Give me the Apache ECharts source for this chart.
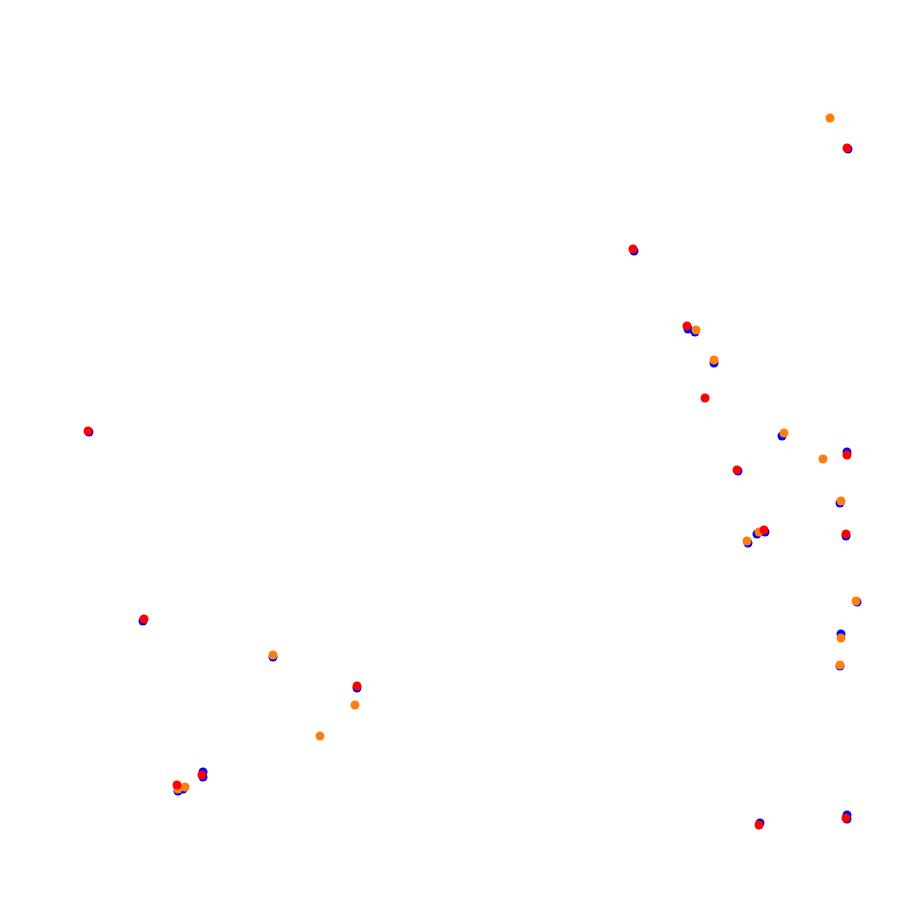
<!DOCTYPE html>
<html>
<head>
<meta charset="utf-8">
<script src="https://cdn.jsdelivr.net/npm/echarts@6/dist/echarts.min.js"></script>
<style>html,body{margin:0;padding:0;background:#fff}#c{width:898px;height:912px}</style>
</head>
<body>
<div id="c"></div>
<script>
const blueSeries = [[848,149],[634,251],[688,329],[695,332],[714,363],[782,436],[847,452],[738,471],[840,503],[765,532],[757,534],[748,543],[846,536],[857,602],[841,634],[840,666],[89,432],[143,621],[273,657],[357,688],[203,772],[203,777],[178,791],[183,789],[760,823],[847,815],[847,819]];
const orangeSeries = [[830,118],[696,330],[714,360],[784,433],[823,459],[841,501],[759,532],[747,541],[856,601],[841,638],[840,665],[273,655],[355,705],[320,736],[185,787],[178,789]];
const redSeries = [[847,148],[633,249],[687,326],[705,398],[847,455],[737,470],[764,530],[846,534],[88,431],[144,619],[357,686],[202,775],[177,785],[759,825],[846,818]];

const chart = echarts.init(document.getElementById('c'));
chart.setOption({
  animation: false,
  backgroundColor: '#ffffff',
  grid: {left: 0, right: 0, top: 0, bottom: 0},
  xAxis: {type: 'value', min: 0, max: 898, show: false},
  yAxis: {type: 'value', min: 0, max: 912, inverse: true, show: false},
  series: [
    {type: 'scatter', data: blueSeries, symbolSize: 9, itemStyle: {color: '#0000ff', opacity: 1}},
    {type: 'scatter', data: orangeSeries, symbolSize: 9, itemStyle: {color: '#ff7f0e', opacity: 1}},
    {type: 'scatter', data: redSeries, symbolSize: 9, itemStyle: {color: '#ff0000', opacity: 1}}
  ]
});
</script>
</body>
</html>
